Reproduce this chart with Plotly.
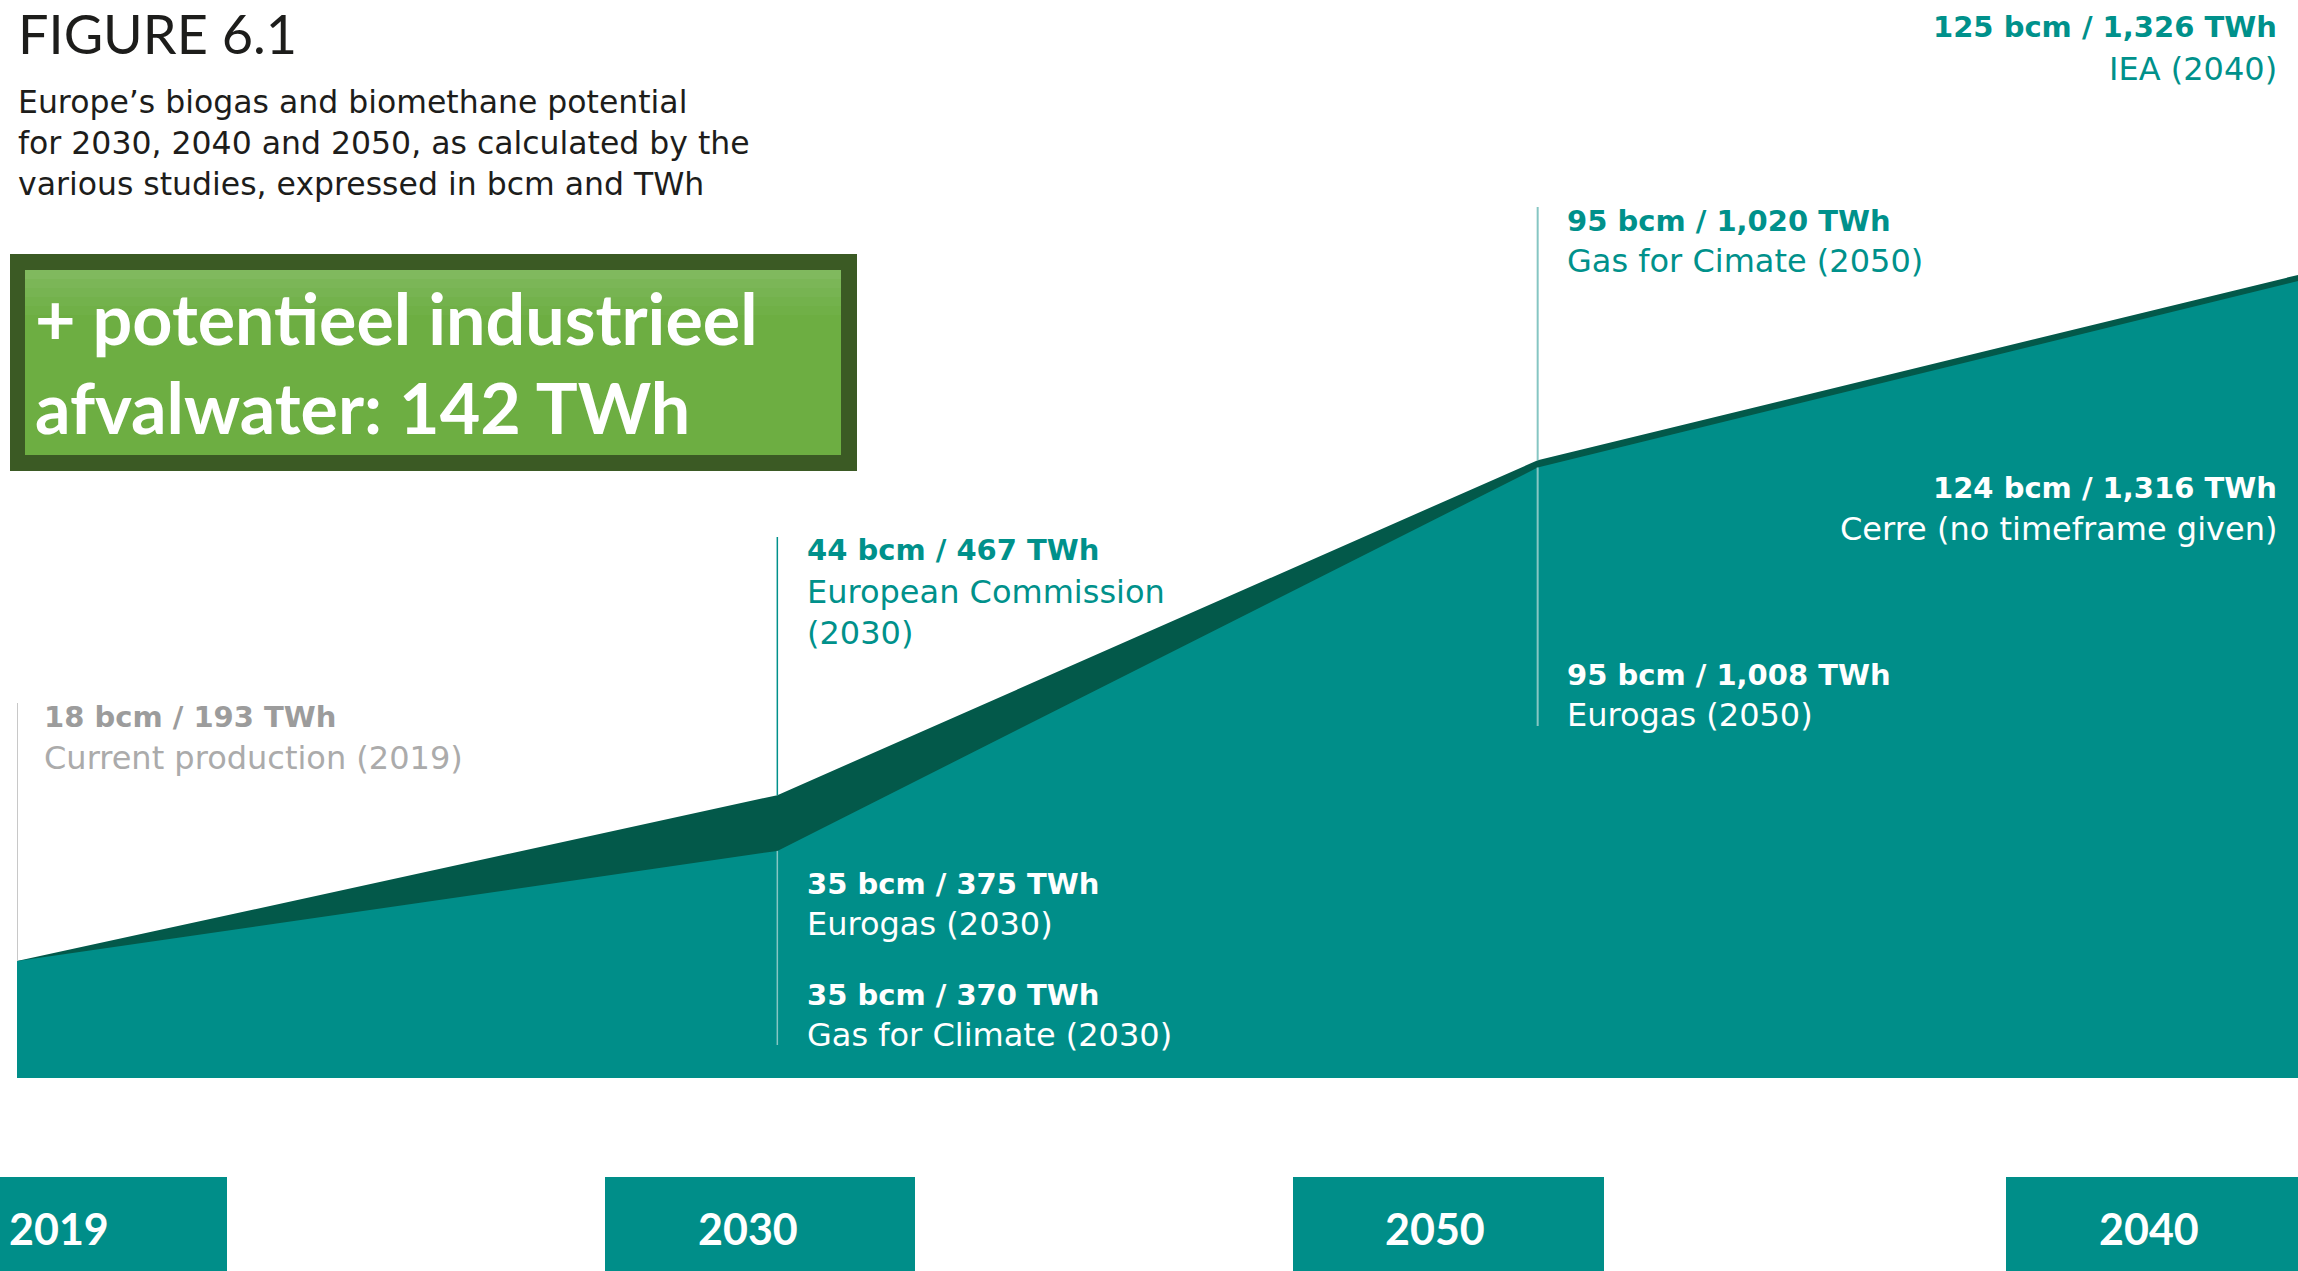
import plotly.graph_objects as go

# ---------------- data ----------------
years = ['2019', '2030', '2050', '2040']
twh_high = [193, 467, 1020, 1326]     # upper estimate per point (dark band top)
twh_low = [193, 375, 1008, 1316]      # lower estimate per point (teal area top)
year_labels = ['2019', '2030', '2050', '2040']

title_text = 'FIGURE 6.1'
subtitle_lines = ["Europe’s biogas and biomethane potential",
                  "for 2030, 2040 and 2050, as calculated by the",
                  "various studies, expressed in bcm and TWh"]
box_lines = ['+ potentieel industrieel', 'afvalwater: 142 TWh']

# ---------------- styling ----------------
W, H = 2298, 1271
PL, PR, PT, PB = 17, 2298, 0, 1078
YMAX = 1780
TEAL = '#008E89'
DARK = '#03594A'
TEAL_TXT = '#00918B'
GREY1 = '#9C9C9C'
GREY2 = '#ABABAB'
LIGHT_LINE = '#86C6C3'
FONT = 'DejaVu Sans'


def xp(px):
    return (px - PL) / (PR - PL)


def yp(py):
    return (PB - py) / (PB - PT)


def yv(py):
    return (PB - py) / (PB - PT) * YMAX


fig = go.Figure()
fig.add_trace(go.Scatter(x=years, y=twh_high, mode='lines', fill='tozeroy',
                         line=dict(width=0, color=DARK), fillcolor=DARK,
                         hoverinfo='skip', showlegend=False))
fig.add_trace(go.Scatter(x=years, y=twh_low, mode='lines', fill='tozeroy',
                         line=dict(width=0, color=TEAL), fillcolor=TEAL,
                         hoverinfo='skip', showlegend=False))

shapes = []
# vertical marker lines
shapes.append(dict(type='line', xref='x', yref='y', x0=0, x1=0, y0=yv(703), y1=twh_high[0],
                   line=dict(color='#C8C8C8', width=2)))
shapes.append(dict(type='line', xref='x', yref='y', x0=1, x1=1, y0=yv(537), y1=twh_high[1],
                   line=dict(color=TEAL_TXT, width=1.5)))
shapes.append(dict(type='line', xref='x', yref='y', x0=1, x1=1, y0=twh_low[1], y1=yv(1045),
                   line=dict(color=LIGHT_LINE, width=1.5)))
shapes.append(dict(type='line', xref='x', yref='y', x0=2, x1=2, y0=yv(207), y1=twh_high[2],
                   line=dict(color=LIGHT_LINE, width=2)))
shapes.append(dict(type='line', xref='x', yref='y', x0=2, x1=2, y0=twh_low[2], y1=yv(726),
                   line=dict(color=LIGHT_LINE, width=2)))

# green callout box (dark frame + vertical gradient made of thin bands)
shapes.append(dict(type='rect', xref='paper', yref='paper', x0=xp(10), x1=xp(857),
                   y0=yp(471), y1=yp(254), fillcolor='#3B5A24', line=dict(width=0), layer='above'))
grad = ['#80B95E', '#7BB657', '#77B452', '#73B24C', '#70B047', '#6DAE42']
top, bottom = 270, 455
band = 9
for i, c in enumerate(grad):
    y0 = top + i * band
    y1 = bottom if i == len(grad) - 1 else top + (i + 1) * band
    shapes.append(dict(type='rect', xref='paper', yref='paper', x0=xp(25), x1=xp(841),
                       y0=yp(y1), y1=yp(y0), fillcolor=c, line=dict(width=0), layer='above'))

# bottom year boxes
box_x = [(0, 227), (605, 915), (1293, 1604), (2006, 2298)]
for x0, x1 in box_x:
    shapes.append(dict(type='rect', xref='paper', yref='paper', x0=xp(x0), x1=xp(x1),
                       y0=yp(1271), y1=yp(1177), fillcolor=TEAL, line=dict(width=0)))

ann = []


def add_text(text, px, py, size, color, anchor='left', family=FONT, bold=False):
    ann.append(dict(text=('<b>%s</b>' % text) if bold else text, xref='paper', yref='paper',
                    x=xp(px), y=yp(py), xanchor=anchor, yanchor='middle', showarrow=False,
                    font=dict(family=family, size=size, color=color)))


# title & subtitle
add_text(title_text, 16, 33, 54, '#1D1D1B', family='Lato')
for t, cy in zip(subtitle_lines, [102, 143, 184]):
    add_text(t, 16, cy, 31.5, '#1D1D1B')

# callout box text
add_text(box_lines[0], 33, 318, 70, 'white', family='Lato', bold=True)
add_text(box_lines[1], 33, 407, 70, 'white', family='Lato', bold=True)

# data labels
BS, RS = 29, 32
add_text('18 bcm / 193 TWh', 42, 717, BS, GREY1, bold=True)
add_text('Current production (2019)', 42, 758, RS, GREY2)

add_text('44 bcm / 467 TWh', 805, 550, BS, TEAL_TXT, bold=True)
add_text('European Commission', 805, 592, RS, TEAL_TXT)
add_text('(2030)', 805, 633, RS, TEAL_TXT)

add_text('35 bcm / 375 TWh', 805, 884, BS, 'white', bold=True)
add_text('Eurogas (2030)', 805, 924, RS, 'white')
add_text('35 bcm / 370 TWh', 805, 995, BS, 'white', bold=True)
add_text('Gas for Climate (2030)', 805, 1035, RS, 'white')

add_text('95 bcm / 1,020 TWh', 1565, 221, BS, TEAL_TXT, bold=True)
add_text('Gas for Cimate (2050)', 1565, 261, RS, TEAL_TXT)
add_text('95 bcm / 1,008 TWh', 1565, 675, BS, 'white', bold=True)
add_text('Eurogas (2050)', 1565, 715, RS, 'white')

add_text('125 bcm / 1,326 TWh', 2279, 27, BS, TEAL_TXT, anchor='right', bold=True)
add_text('IEA (2040)', 2279, 69, RS, TEAL_TXT, anchor='right')
add_text('124 bcm / 1,316 TWh', 2279, 488, BS, 'white', anchor='right', bold=True)
add_text('Cerre (no timeframe given)', 2279, 529, RS, 'white', anchor='right')

# year labels in boxes
for lab, cx in zip(year_labels, [59, 748, 1435, 2149]):
    add_text(lab, cx, 1228, 43, 'white', anchor='center', family='Lato', bold=True)

fig.update_layout(
    width=W, height=H, autosize=False,
    margin=dict(l=PL, r=W - PR, t=PT, b=H - PB, pad=0),
    paper_bgcolor='white', plot_bgcolor='white',
    xaxis=dict(type='category', range=[0, 3], visible=False, fixedrange=True),
    yaxis=dict(range=[0, YMAX], visible=False, fixedrange=True),
    shapes=shapes, annotations=ann, showlegend=False,
)

fig.write_html('out.html', config={'displayModeBar': False},
               post_script="document.body.style.margin='0';document.body.style.overflow='hidden';")
